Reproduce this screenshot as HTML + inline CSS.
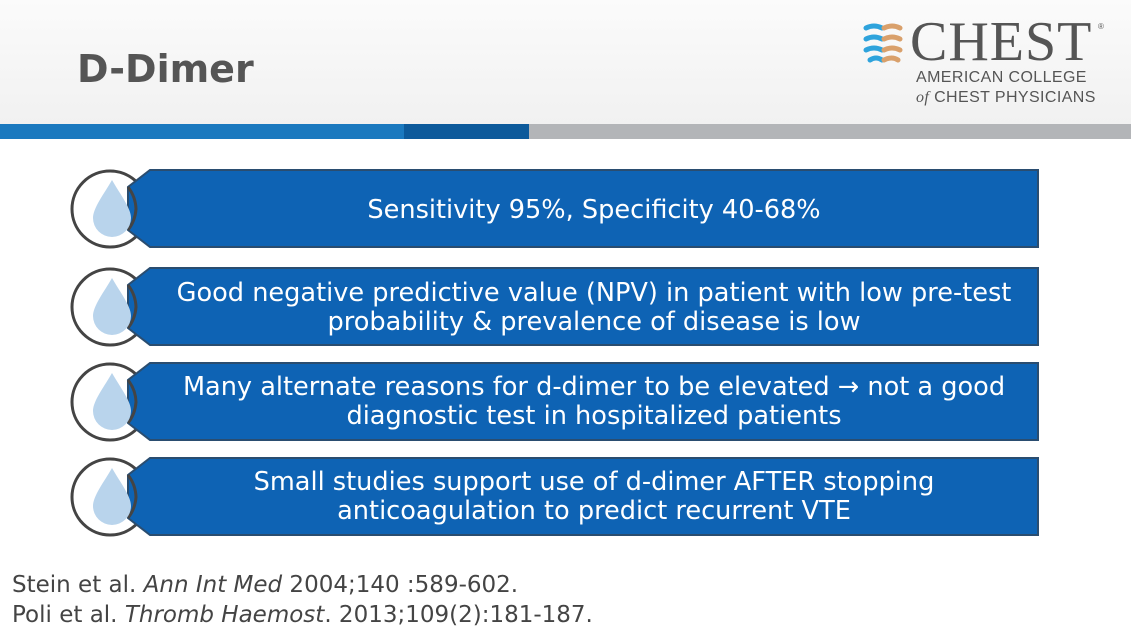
<!DOCTYPE html>
<html><head><meta charset="utf-8"><style>
body{margin:0;width:1131px;height:631px;overflow:hidden;background:#fff;font-family:"Liberation Sans","DejaVu Sans",sans-serif;position:relative}
.hdr{position:absolute;left:0;top:0;width:1131px;height:124px;background:linear-gradient(#fbfbfb,#f1f1f1)}
h1{position:absolute;left:77px;top:47px;margin:0;font-size:38px;font-weight:bold;color:#555;font-family:"DejaVu Sans","Liberation Sans",sans-serif}
.s{position:absolute;top:124px;height:15px}
.t{position:absolute;color:#fff;font-family:"DejaVu Sans","Liberation Sans",sans-serif;font-size:25.6px;text-align:center;line-height:29px;width:900px;left:144px;white-space:nowrap}
.ref{position:absolute;left:12px;font-size:23px;color:#444;font-family:"DejaVu Sans",sans-serif}
</style></head><body>
<div class="hdr"></div>
<h1>D-Dimer</h1>
<svg style="position:absolute;left:862px;top:22px" width="45" height="45">
<g stroke-width="5" fill="none" stroke-linecap="round">
<path d="M4 6 Q12 2 20 6" stroke="#2ea3dc"/><path d="M22 6 Q30 2 38 6" stroke="#d9a06b"/>
<path d="M4 17 Q12 13 20 17" stroke="#2ea3dc"/><path d="M22 17 Q30 13 38 17" stroke="#d9a06b"/>
<path d="M4 28 Q12 24 20 28" stroke="#2ea3dc"/><path d="M22 28 Q30 24 38 28" stroke="#d9a06b"/>
<path d="M8 38 Q14 34 20 38" stroke="#2ea3dc"/><path d="M22 38 Q30 34 36 38" stroke="#d9a06b"/>
</g></svg>
<div style="position:absolute;left:910px;top:13px;font-family:'Liberation Serif',serif;font-size:56px;color:#555;line-height:58px;letter-spacing:1px">CHEST</div>
<div style="position:absolute;left:1098px;top:22px;font-size:8px;color:#555">®</div>
<div style="position:absolute;left:916px;top:68px;font-size:16px;color:#555;letter-spacing:0.4px;line-height:20px">AMERICAN COLLEGE<br><i style="font-family:'Liberation Serif',serif">of</i> CHEST PHYSICIANS</div>
<div class="s" style="left:0;width:404px;background:#1b79bf"></div>
<div class="s" style="left:404px;width:125px;background:#0d5a9b"></div>
<div class="s" style="left:529px;width:602px;background:#b3b5b8"></div>
<svg style="position:absolute;left:0;top:0" width="1131" height="631">
<defs><g id="r">
<circle cx="110" cy="39" r="38" fill="#fff" stroke="#444" stroke-width="3"/>
<polygon points="150,0 1038,0 1038,77 150,77 128,60 128,17" fill="#0e63b4" stroke="#2a4d70" stroke-width="2"/>
<path d="M128 17 A38 38 0 0 1 136 39 A38 38 0 0 1 128 60" fill="none" stroke="#444" stroke-width="3"/>
<path d="M112 14 C104 28 93 42 93 52 A19 19 0 0 0 131 52 C131 42 120 28 112 14Z" fill="#b9d4ec" transform="translate(0,-4)"/>
</g></defs>
<use href="#r" y="170"/><use href="#r" y="268"/><use href="#r" y="363"/><use href="#r" y="458"/>
</svg>
<div class="t" style="top:196px">Sensitivity 95%, Specificity 40-68%</div>
<div class="t" style="top:279px">Good negative predictive value (NPV) in patient with low pre-test<br>probability &amp; prevalence of disease is low</div>
<div class="t" style="top:373px">Many alternate reasons for d-dimer to be elevated → not a good<br>diagnostic test in hospitalized patients</div>
<div class="t" style="top:468px">Small studies support use of d-dimer AFTER stopping<br>anticoagulation to predict recurrent VTE</div>
<div class="ref" style="top:572px">Stein et al. <i>Ann Int Med</i> 2004;140 :589-602.</div>
<div class="ref" style="top:602px">Poli et al. <i>Thromb Haemost</i>. 2013;109(2):181-187.</div>
</body></html>
